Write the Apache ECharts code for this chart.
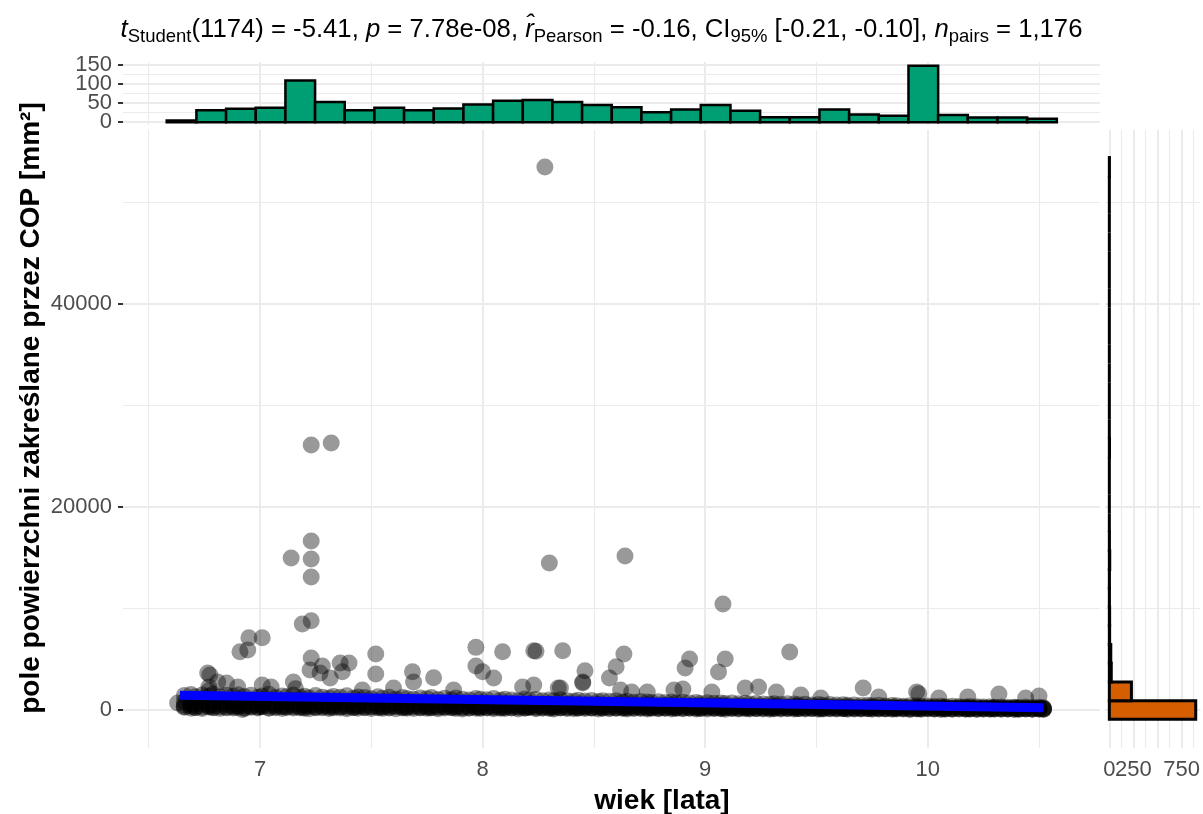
<!DOCTYPE html>
<html>
<head>
<meta charset="utf-8">
<script src="https://cdn.jsdelivr.net/npm/echarts@6/dist/echarts.min.js"></script>
<style>
html, body { margin: 0; padding: 0; background: #ffffff; }
#chart { width: 1203px; height: 814px; }
</style>
</head>
<body>
<div id="chart"></div>
<script>
// ---------------- DATA ----------------
// x ticks (age, years) and y ticks (area, mm^2)
const xMajorTicks = [7, 8, 9, 10];
const xMinorTicks = [6.5, 7.5, 8.5, 9.5, 10.5];
const yMajorTicks = [0, 20000, 40000];
const yMinorTicks = [10000, 30000, 50000];
const topHistTicks = [0, 50, 100, 150];
const topHistLabelsA = [0, 100];
const topHistLabelsB = [50, 150];
const topHistMinor = [25, 75, 125];
const rightHistTicks = [0, 250, 500, 750];
const rightHistLabelsA = [0, 750];
const rightHistLabelsB = [250];
const rightHistMinor = [125, 375, 625, 875];

// top marginal histogram of age (30 bins)
const ageBinStart = 6.581;
const ageBinWidth = 0.1333;
const ageCounts = [4, 31, 35, 38, 109, 53, 31, 38, 31, 36, 46, 56, 58, 53, 45,
                   39, 26, 33, 45, 30, 13, 13, 33, 20, 17, 148, 19, 12, 12, 9];

// right marginal histogram of area (30 bins)
const poleBinStart = -922;
const poleBinWidth = 1845;
const poleCounts = [896, 229, 20, 15, 3, 3, 1, 1, 4, 1, 0, 0, 0, 0, 2,
                    0, 0, 0, 0, 0, 0, 0, 0, 0, 0, 0, 0, 0, 0, 1];

// dense band of observations (age + five area rows)
const bandAge = [
  6.66, 6.69, 6.71, 6.74, 6.77, 6.79, 6.82, 6.85, 6.88, 6.90,
  6.93, 6.96, 6.99, 7.01, 7.04, 7.07, 7.10, 7.12, 7.15, 7.18,
  7.20, 7.22, 7.25, 7.28, 7.31, 7.33, 7.36, 7.39, 7.42, 7.44,
  7.47, 7.50, 7.53, 7.55, 7.58, 7.61, 7.64, 7.66, 7.69, 7.72,
  7.75, 7.77, 7.80, 7.83, 7.86, 7.88, 7.91, 7.94, 7.97, 7.99,
  8.02, 8.05, 8.08, 8.10, 8.13, 8.16, 8.19, 8.21, 8.24, 8.27,
  8.30, 8.32, 8.35, 8.38, 8.41, 8.43, 8.46, 8.49, 8.52, 8.54,
  8.57, 8.60, 8.63, 8.65, 8.68, 8.71, 8.74, 8.76, 8.79, 8.82,
  8.85, 8.87, 8.90, 8.93, 8.96, 8.98, 9.01, 9.04, 9.07, 9.09,
  9.12, 9.15, 9.18, 9.20, 9.23, 9.26, 9.29, 9.31, 9.34, 9.37,
  9.40, 9.42, 9.45, 9.48, 9.51, 9.53, 9.56, 9.59, 9.62, 9.64,
  9.67, 9.70, 9.73, 9.75, 9.78, 9.81, 9.84, 9.86, 9.89, 9.92,
  9.95, 9.97, 10.00, 10.03, 10.06, 10.08, 10.11, 10.14, 10.17, 10.19,
  10.22, 10.25, 10.28, 10.30, 10.33, 10.36, 10.39, 10.41, 10.44, 10.47,
  10.50, 10.52
];
const bandPoleLow = [
  320, 180, 250, 140, 300, 210, 160, 280, 190, 240,
  150, 270, 200, 310, 170, 230, 140, 290, 200, 260,
  180, 120, 250, 210, 150, 300, 190, 130, 240, 170,
  220, 140, 280, 160, 200, 120, 250, 180, 140, 210,
  160, 230, 130, 190, 250, 150, 110, 200, 170, 140,
  230, 120, 180, 150, 210, 100, 170, 240, 130, 190,
  150, 110, 200, 160, 120, 180, 140, 210, 100, 170,
  130, 190, 150, 110, 170, 140, 90, 160, 120, 180,
  100, 150, 130, 170, 90, 140, 110, 160, 120, 80,
  140, 100, 130, 90, 150, 110, 80, 130, 100, 140,
  90, 120, 100, 140, 80, 110, 130, 90, 120, 70,
  110, 90, 130, 80, 100, 120, 70, 110, 90, 60,
  100, 80, 120, 90, 60, 110, 80, 100, 70, 90,
  60, 100, 80, 110, 70, 90, 60, 80, 100, 70,
  90, 60
];
const bandPoleBase = [
  260, 340, 220, 300, 380, 240, 330, 210, 290, 360,
  230, 310, 270, 350, 220, 290, 330, 240, 300, 210,
  280, 340, 230, 300, 260, 210, 320, 270, 230, 300,
  250, 300, 220, 280, 240, 310, 200, 260, 290, 230,
  270, 210, 250, 290, 220, 260, 230, 200, 270, 240,
  200, 250, 220, 270, 190, 240, 210, 260, 230, 200,
  240, 200, 230, 190, 250, 210, 240, 180, 220, 200,
  210, 180, 230, 200, 170, 220, 190, 210, 180, 200,
  190, 210, 170, 200, 180, 160, 200, 180, 170, 190,
  180, 160, 190, 170, 150, 180, 160, 170, 190, 150,
  170, 150, 180, 160, 140, 170, 150, 160, 140, 170,
  150, 160, 140, 170, 150, 130, 160, 140, 150, 130,
  160, 140, 150, 130, 150, 140, 120, 150, 130, 140,
  130, 150, 120, 140, 130, 110, 140, 120, 130, 110,
  120, 130
];
const bandPoleLow2 = [
  480, 520, 400, 560, 450, 390, 530, 470, 420, 500,
  430, 490, 380, 520, 410, 460, 350, 500, 440, 390,
  470, 410, 360, 450, 400, 480, 340, 420, 380, 440,
  400, 360, 430, 330, 390, 420, 350, 300, 410, 370,
  330, 390, 350, 310, 380, 340, 290, 360, 320, 300,
  350, 300, 330, 280, 360, 310, 270, 330, 290, 320,
  280, 320, 260, 300, 330, 250, 290, 270, 310, 260,
  290, 250, 280, 240, 300, 260, 230, 270, 250, 220,
  260, 230, 250, 210, 240, 220, 260, 200, 230, 210,
  220, 190, 240, 200, 180, 210, 230, 190, 170, 200,
  190, 170, 200, 160, 180, 150, 190, 170, 140, 160,
  170, 150, 180, 140, 160, 130, 150, 170, 140, 120,
  150, 130, 160, 120, 140, 110, 130, 150, 120, 110,
  130, 110, 140, 100, 120, 130, 100, 110, 130, 90,
  110, 100
];
const bandPoleMid = [
  820, 640, 760, 900, 700, 580, 810, 680, 750, 620,
  720, 860, 640, 780, 690, 560, 740, 820, 650, 700,
  600, 760, 690, 540, 720, 650, 780, 600, 690, 560,
  640, 720, 580, 670, 540, 700, 610, 520, 650, 590,
  560, 640, 500, 610, 570, 480, 630, 540, 590, 500,
  580, 460, 540, 600, 490, 550, 440, 580, 510, 470,
  540, 430, 500, 560, 450, 510, 420, 490, 540, 430,
  470, 520, 410, 480, 440, 390, 500, 430, 380, 460,
  420, 370, 450, 400, 360, 430, 380, 340, 410, 370,
  330, 390, 350, 310, 380, 340, 300, 360, 320, 290,
  350, 310, 280, 340, 300, 270, 320, 290, 260, 310,
  280, 250, 300, 260, 230, 290, 250, 220, 270, 240,
  260, 220, 280, 240, 210, 250, 200, 240, 220, 190,
  230, 200, 180, 220, 190, 170, 210, 180, 160, 200,
  180, 150
];
const bandPoleHigh = [
  1420, 1530, 1300, 1480, 1380, 1560, 1290, 1450, 1350, 1500,
  1320, 1450, 1260, 1390, 1540, 1230, 1380, 1300, 1470, 1250,
  1350, 1200, 1420, 1260, 1180, 1330, 1250, 1400, 1150, 1280,
  1230, 1100, 1300, 1150, 1260, 1070, 1220, 1140, 1050, 1190,
  1120, 1230, 1040, 1150, 1000, 1180, 1060, 990, 1140, 1070,
  1020, 1140, 950, 1060, 980, 920, 1090, 960, 1040, 900,
  980, 880, 1010, 920, 850, 960, 890, 940, 830, 900,
  860, 920, 800, 870, 760, 840, 780, 730, 820, 750,
  790, 700, 760, 680, 740, 650, 720, 670, 700, 630,
  690, 620, 660, 580, 640, 600, 560, 620, 570, 610,
  580, 520, 560, 500, 540, 470, 530, 490, 510, 460,
  500, 450, 470, 420, 460, 400, 440, 410, 380, 430,
  420, 380, 400, 350, 370, 330, 360, 340, 300, 350,
  320, 290, 330, 270, 300, 260, 280, 250, 290, 240,
  260, 230
];

// observations just above the band
const upperAge  = [6.77, 6.81, 6.85, 6.90, 6.77, 7.01, 7.05, 7.15, 7.27, 7.16, 7.46, 7.60, 7.69, 7.87,
                   8.18, 8.35, 8.45, 8.62, 8.67, 8.74, 8.86, 9.03, 9.18, 9.24, 9.32, 9.43, 9.52, 9.78,
                   9.95, 9.96, 10.05, 10.18, 10.32, 10.44, 10.50, 6.63, 6.92];
const upperPole = [2270, 2760, 2660, 2270, 1900, 2460, 2270, 2760, 3640, 2100, 1970, 2170, 2760, 1970,
                   2270, 2170, 2760, 1970, 1770, 1770, 1970, 1770, 2170, 2270, 1770, 1480, 1180, 1280,
                   1770, 1600, 1180, 1280, 1580, 1180, 1380, 690, 60];

// isolated high observations
const outlierAge  = [8.28, 7.23, 7.32, 7.23, 7.23, 7.14, 7.23, 8.30, 8.64, 9.08,
                     7.19, 7.23, 6.95, 7.01, 6.91, 6.945, 7.52, 7.23, 6.775, 6.765,
                     7.28, 7.225, 7.36, 7.40, 7.37, 7.315, 7.52, 7.685, 7.78, 7.97,
                     8.09, 8.23, 8.24, 8.36, 7.97, 8.00, 8.05, 8.46, 8.60, 8.635,
                     8.57, 8.45, 8.34, 8.23, 8.93, 8.91, 9.09, 9.06, 9.38, 9.71, 8.90];
const outlierPole = [53500, 26100, 26300, 16650, 14870, 14970, 13100, 14480, 15170, 10440,
                     8470, 8800, 7120, 7120, 5740, 5910, 5520, 5120, 3450, 3640,
                     4330, 3940, 4630, 4630, 3770, 3150, 3540, 3770, 3180, 6170,
                     5740, 5840, 5780, 5840, 4330, 3770, 3150, 3870, 4270, 5520,
                     3150, 2660, 2170, 2460, 5020, 4140, 5020, 3740, 5720, 2170, 2070];

// linear fit endpoints
const fitAge  = [6.64, 10.52];
const fitPole = [1450, 225];

// ---------------- BUILD ----------------
const scatterData = [];
const bandRows = [bandPoleLow, bandPoleBase, bandPoleLow2, bandPoleMid, bandPoleHigh];
bandRows.forEach(row => {
  const n = Math.min(bandAge.length, row.length);
  for (let i = 0; i < n; i++) scatterData.push([bandAge[i], row[i]]);
});
for (let i = 0; i < upperAge.length; i++) scatterData.push([upperAge[i], upperPole[i]]);
for (let i = 0; i < outlierAge.length; i++) scatterData.push([outlierAge[i], outlierPole[i]]);

const ageHist = ageCounts.map((c, i) => [ageBinStart + i * ageBinWidth, ageBinStart + (i + 1) * ageBinWidth, c]);
const poleHist = poleCounts.map((c, i) => [poleBinStart + i * poleBinWidth, poleBinStart + (i + 1) * poleBinWidth, c]);

const GRID_C = '#EBEBEB';
const TXT_C = '#4D4D4D';
const FONT = '"Liberation Sans", Arial, sans-serif';

function gridLines(vals, axisKey, width) {
  return vals.map(v => ({ [axisKey]: v, lineStyle: { color: GRID_C, width: width, type: 'solid' } }));
}
function helper(xi, yi, xMaj, xMin, yMaj, yMin) {
  return {
    type: 'line', xAxisIndex: xi, yAxisIndex: yi, data: [], z: 0, zlevel: 0, silent: true,
    markLine: {
      z: 0, silent: true, symbol: ['none', 'none'], label: { show: false }, animation: false,
      emphasis: { disabled: true },
      lineStyle: { type: 'solid', color: GRID_C },
      data: [].concat(gridLines(xMin, 'xAxis', 1.1), gridLines(yMin, 'yAxis', 1.1),
                      gridLines(xMaj, 'xAxis', 2), gridLines(yMaj, 'yAxis', 2))
    }
  };
}

const axisTickStyle = { show: true, length: 5, lineStyle: { color: '#333333', width: 2 } };
const labelBase = { color: TXT_C, fontSize: 22, fontFamily: FONT, margin: 11, hideOverlap: false,
                    showMinLabel: true, showMaxLabel: true, formatter: v => String(v) };
const hidden = { axisLine: { show: false }, splitLine: { show: false }, axisTick: { show: false } };

const option = {
  animation: false,
  backgroundColor: '#ffffff',
  title: {
    left: 'center', top: 9,
    text: '{i|t}{s|Student}{n|(1174) = -5.41, }{i|p}{n| = 7.78e-08, }{i|r\u0302}{s|Pearson}{n| = -0.16, CI}{s|95%}{n| [-0.21, -0.10], }{i|n}{s|pairs}{n| = 1,176}',
    textStyle: {
      fontWeight: 'normal',
      rich: {
        n: { fontFamily: FONT, fontSize: 25.7, fontWeight: 'normal', color: '#000', lineHeight: 32, verticalAlign: 'middle' },
        i: { fontFamily: FONT, fontSize: 25.7, fontWeight: 'normal', color: '#000', fontStyle: 'italic', lineHeight: 32, verticalAlign: 'middle' },
        s: { fontFamily: FONT, fontSize: 18.5, fontWeight: 'normal', color: '#000', lineHeight: 18, verticalAlign: 'bottom' }
      }
    }
  },
  grid: [
    { left: 123, top: 130, width: 977, height: 618 },
    { left: 123, top: 62, width: 977, height: 63 },
    { left: 1105, top: 130, width: 97, height: 618 }
  ],
  xAxis: [
    { gridIndex: 0, type: 'value', min: 6.3845, max: 10.774, position: 'bottom',
      axisLine: { show: false }, splitLine: { show: false },
      axisTick: Object.assign({ customValues: xMajorTicks }, axisTickStyle),
      axisLabel: Object.assign({ customValues: xMajorTicks }, labelBase) },
    { gridIndex: 1, type: 'value', min: 6.3845, max: 10.774, position: 'bottom',
      axisLine: { show: false }, splitLine: { show: false }, axisTick: { show: false }, axisLabel: { show: false } },
    { gridIndex: 2, type: 'value', min: -45, max: 945, position: 'bottom',
      axisLine: { show: false }, splitLine: { show: false },
      axisTick: Object.assign({ customValues: rightHistTicks }, axisTickStyle),
      axisLabel: Object.assign({ customValues: rightHistLabelsA }, labelBase) },
    Object.assign({ gridIndex: 2, type: 'value', min: -45, max: 945, position: 'bottom',
      axisLabel: Object.assign({ customValues: rightHistLabelsB }, labelBase) }, hidden)
  ],
  yAxis: [
    { gridIndex: 0, type: 'value', min: -3744, max: 57143, position: 'left',
      axisLine: { show: false }, splitLine: { show: false },
      axisTick: Object.assign({ customValues: yMajorTicks }, axisTickStyle),
      axisLabel: Object.assign({ customValues: yMajorTicks }, labelBase) },
    { gridIndex: 1, type: 'value', min: -7.5, max: 157.5, position: 'left',
      axisLine: { show: false }, splitLine: { show: false },
      axisTick: Object.assign({ customValues: topHistTicks }, axisTickStyle),
      axisLabel: Object.assign({ customValues: topHistLabelsA }, labelBase) },
    { gridIndex: 2, type: 'value', min: -3744, max: 57143, position: 'left',
      axisLine: { show: false }, splitLine: { show: false }, axisTick: { show: false }, axisLabel: { show: false } },
    Object.assign({ gridIndex: 1, type: 'value', min: -7.5, max: 157.5, position: 'left',
      axisLabel: Object.assign({ customValues: topHistLabelsB }, labelBase) }, hidden)
  ],
  graphic: [
    { type: 'text', x: 31, y: 408, rotation: Math.PI / 2,
      style: { text: 'pole powierzchni zakreślane przez COP [mm²]', font: 'bold 28px ' + FONT, fill: '#000',
               align: 'center', verticalAlign: 'middle' } },
    { type: 'text', x: 662, y: 801,
      style: { text: 'wiek [lata]', font: 'bold 28px ' + FONT, fill: '#000', align: 'center', verticalAlign: 'middle' } }
  ],
  series: [
    helper(0, 0, xMajorTicks, xMinorTicks, yMajorTicks, yMinorTicks),
    helper(1, 1, xMajorTicks, xMinorTicks, topHistTicks, topHistMinor),
    helper(2, 2, rightHistTicks, rightHistMinor, yMajorTicks, yMinorTicks),
    {
      type: 'scatter', xAxisIndex: 0, yAxisIndex: 0, data: scatterData, z: 2,
      symbol: 'circle', symbolSize: 17, silent: true, large: false,
      itemStyle: { color: 'rgba(0,0,0,0.5)', borderWidth: 0 }
    },
    {
      type: 'line', xAxisIndex: 0, yAxisIndex: 0, z: 3, silent: true,
      data: fitAge.map((a, i) => [a, fitPole[i]]),
      symbol: 'none', lineStyle: { color: '#0000FF', width: 9, cap: 'butt' }
    },
    {
      type: 'custom', xAxisIndex: 1, yAxisIndex: 1, z: 2, silent: true, data: ageHist,
      encode: { x: [0, 1], y: 2 },
      renderItem: function (params, api) {
        const p0 = api.coord([api.value(0), 0]);
        const p1 = api.coord([api.value(1), api.value(2)]);
        return { type: 'rect', shape: { x: p0[0], y: p1[1], width: p1[0] - p0[0], height: p0[1] - p1[1] },
                 style: { fill: '#009E73', stroke: '#000000', lineWidth: 2.5 } };
      }
    },
    {
      type: 'custom', xAxisIndex: 2, yAxisIndex: 2, z: 2, silent: true, data: poleHist,
      encode: { y: [0, 1], x: 2 },
      renderItem: function (params, api) {
        const p0 = api.coord([0, api.value(0)]);
        const p1 = api.coord([api.value(2), api.value(1)]);
        return { type: 'rect', shape: { x: p0[0], y: p1[1], width: p1[0] - p0[0], height: p0[1] - p1[1] },
                 style: { fill: '#D55E00', stroke: '#000000', lineWidth: 3 } };
      }
    }
  ]
};

const chart = echarts.init(document.getElementById('chart'), null, { renderer: 'canvas' });
chart.setOption(option);
</script>
</body>
</html>
